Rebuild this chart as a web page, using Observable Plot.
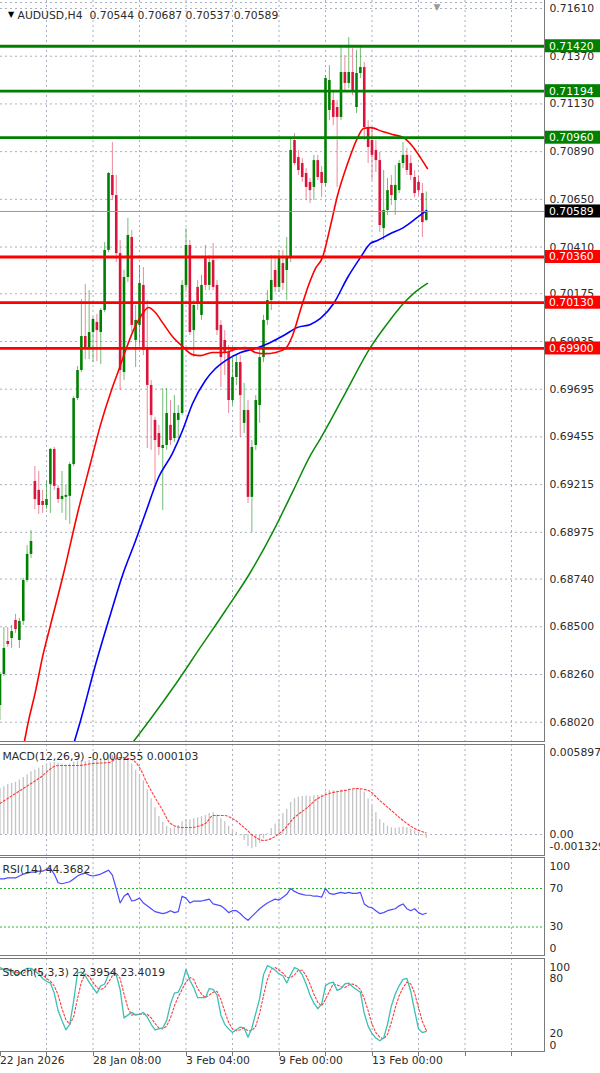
<!DOCTYPE html>
<html><head><meta charset="utf-8">
<script src="https://cdn.jsdelivr.net/npm/d3@7"></script>
<script src="https://cdn.jsdelivr.net/npm/@observablehq/plot@0.6"></script>
<style>
body{margin:0;background:#fff;}
#chart{position:relative;width:600px;height:1073px;overflow:hidden;background:#fff;}
#chart svg{position:absolute;left:0;}
</style></head><body><div id="chart"></div>
<script>
// ---------------- DATA ----------------
const symbol = "AUDUSD,H4";
const open = [0.68104,0.68260,0.68426,0.68441,0.68532,0.68431,0.68527,0.68733,0.68864,0.69231,
0.69186,0.69130,0.69110,0.69216,0.69392,0.69196,0.69140,0.69151,0.69156,0.69316,
0.69648,0.69789,0.69960,0.69905,0.69980,0.70031,0.69980,0.70091,0.70393,0.70770,
0.70669,0.70377,0.69779,0.70257,0.70458,0.69940,0.70016,0.70217,0.69905,0.69714,
0.69538,0.69472,0.69397,0.69412,0.69513,0.69447,0.69538,0.69573,0.70217,0.70418,
0.69990,0.70207,0.70066,0.70352,0.70217,0.70342,0.70217,0.70016,0.69940,0.69880,
0.69638,0.69754,0.69829,0.69523,0.69588,0.69151,0.69412,0.69613,0.69854,0.70041,
0.70141,0.70292,0.70207,0.70327,0.70292,0.70357,0.70946,0.70860,0.70830,0.70780,
0.70735,0.70710,0.70845,0.70785,0.70730,0.71097,0.71147,0.71112,0.71062,0.71288,
0.71233,0.71288,0.71112,0.71283,0.71313,0.71011,0.70946,0.70896,0.70845,0.70503,
0.70594,0.70720,0.70644,0.70694,0.70830,0.70871,0.70830,0.70760,0.70735,0.70679,
0.70544];
const high = [0.68270,0.68496,0.68496,0.68507,0.68562,0.68542,0.68743,0.68909,0.68984,0.69306,
0.69281,0.69186,0.69231,0.69397,0.69402,0.69211,0.69281,0.69211,0.69326,0.69658,
0.69809,0.70146,0.70222,0.70191,0.70056,0.70071,0.70101,0.70433,0.70785,0.70936,
0.70770,0.70443,0.70292,0.70554,0.70493,0.70116,0.70317,0.70307,0.70141,0.69739,
0.69553,0.69513,0.69698,0.69698,0.69638,0.69663,0.69613,0.70242,0.70503,0.70443,
0.70141,0.70242,0.70267,0.70418,0.70367,0.70428,0.70242,0.70041,0.69990,0.69915,
0.69854,0.69864,0.69864,0.69724,0.69638,0.69437,0.69663,0.69890,0.70066,0.70191,
0.70367,0.70367,0.70393,0.70393,0.70458,0.70961,0.70981,0.70896,0.70855,0.70805,
0.70755,0.70871,0.70871,0.70815,0.71273,0.71323,0.71197,0.71147,0.71414,0.71373,
0.71464,0.71409,0.71399,0.71424,0.71338,0.71046,0.71006,0.70946,0.70886,0.70795,
0.70755,0.70770,0.70820,0.70845,0.70936,0.70906,0.70871,0.70795,0.70765,0.70730,
0.70687];
const low = [0.68029,0.68250,0.68396,0.68391,0.68466,0.68391,0.68507,0.68723,0.68844,0.69090,
0.69065,0.69070,0.69090,0.69070,0.69186,0.69120,0.69070,0.69035,0.69015,0.69306,
0.69638,0.69779,0.69844,0.69844,0.69829,0.69834,0.69819,0.70081,0.70382,0.70644,
0.70332,0.69688,0.69739,0.70232,0.69980,0.69804,0.69915,0.69864,0.69397,0.69387,
0.69201,0.69362,0.69085,0.69387,0.69412,0.69427,0.69447,0.69563,0.70191,0.69965,
0.69854,0.70091,0.70041,0.70191,0.70191,0.70191,0.69965,0.69704,0.69764,0.69573,
0.69613,0.69714,0.69452,0.69472,0.69120,0.68974,0.69387,0.69523,0.69829,0.70016,
0.70091,0.70181,0.70181,0.70191,0.70141,0.70332,0.70820,0.70770,0.70735,0.70644,
0.70629,0.70644,0.70745,0.70659,0.70715,0.71046,0.71021,0.70710,0.71046,0.71197,
0.71207,0.71172,0.71082,0.71258,0.70946,0.70830,0.70745,0.70785,0.70483,0.70443,
0.70569,0.70619,0.70569,0.70679,0.70805,0.70770,0.70745,0.70659,0.70669,0.70458,
0.70537];
const close = [0.68260,0.68391,0.68411,0.68476,0.68486,0.68527,0.68733,0.68864,0.68929,0.69140,
0.69110,0.69110,0.69140,0.69392,0.69206,0.69140,0.69156,0.69161,0.69316,0.69648,
0.69789,0.69960,0.69905,0.69980,0.70046,0.69990,0.70091,0.70393,0.70780,0.70669,
0.70377,0.69789,0.70257,0.70468,0.70016,0.70041,0.70227,0.69890,0.69714,0.69563,
0.69437,0.69402,0.69412,0.69573,0.69437,0.69573,0.69573,0.70217,0.70418,0.69980,
0.70116,0.70126,0.70217,0.70217,0.70332,0.70207,0.69990,0.69854,0.69880,0.69638,
0.69754,0.69829,0.69663,0.69588,0.69151,0.69402,0.69638,0.69854,0.70041,0.70141,
0.70242,0.70207,0.70357,0.70227,0.70357,0.70896,0.70830,0.70795,0.70760,0.70710,
0.70694,0.70845,0.70760,0.70730,0.71258,0.71248,0.71062,0.71062,0.71288,0.71233,
0.71288,0.71187,0.71283,0.71313,0.71011,0.70911,0.70871,0.70845,0.70518,0.70594,
0.70694,0.70669,0.70720,0.70830,0.70871,0.70795,0.70770,0.70679,0.70694,0.70533,
0.70589];

// moving averages (bar position, value)
const maRedBar = [6.3,7.1,9.2,11.0,13.0,16.4,20.0,23.4,25.9,29.0,30.6,32.4,35.0,36.8,38.3,40.1,41.9,44.5,47.1,49.7,51.7,54.8,58.2,61.3,63.4,65.9,68.5,71.1,73.7,75.5,77.5,79.6,81.4,83.2,85.3,87.1,89.7,92.3,93.8,95.6,98.7,101.3,104.1,106.7,108.5,110.3];
const maRedVal = [0.67923,0.68003,0.68179,0.68350,0.68506,0.68768,0.69070,0.69326,0.69513,0.69704,0.69789,0.69890,0.70016,0.70076,0.70106,0.70081,0.70031,0.69960,0.69910,0.69869,0.69864,0.69880,0.69880,0.69900,0.69905,0.69880,0.69874,0.69880,0.69900,0.69965,0.70091,0.70217,0.70302,0.70357,0.70518,0.70669,0.70830,0.70961,0.71006,0.71011,0.70991,0.70976,0.70961,0.70911,0.70860,0.70805];
const maBlueBar = [19.2,20.8,24.6,28.5,31.6,35.0,37.5,40.9,44.5,47.1,49.7,53.0,55.6,58.2,62.1,65.9,69.8,73.2,76.8,80.1,82.7,86.1,89.7,93.0,95.6,97.4,100.8,104.1,107.7,110.1];
const maBlueVal = [0.67923,0.68029,0.68305,0.68562,0.68758,0.68934,0.69070,0.69251,0.69372,0.69487,0.69623,0.69739,0.69799,0.69839,0.69880,0.69900,0.69930,0.69965,0.70006,0.70021,0.70051,0.70126,0.70257,0.70357,0.70428,0.70443,0.70478,0.70508,0.70559,0.70594];
const maGreenBar = [34.45,38.8,45.3,51.7,58.2,64.6,70.6,75.7,80.1,82.7,89.2,95.6,100.0,104.1,106.7,110.3];
const maGreenVal = [0.67923,0.68035,0.68211,0.68396,0.68582,0.68773,0.68984,0.69186,0.69362,0.69447,0.69678,0.69905,0.70026,0.70126,0.70176,0.70227];

// horizontal levels
const resistLevels = [0.71420, 0.71194, 0.70960];
const supportLevels = [0.70360, 0.70130, 0.69900];
const priceTicks = [0.71610,0.71370,0.71130,0.70890,0.70650,0.70410,0.70175,0.69935,0.69695,0.69455,0.69215,0.68975,0.68740,0.68500,0.68260,0.68020];

// MACD(12,26,9)
const macdHist = [0.00308,0.00320,0.00335,0.00342,0.00350,0.00365,0.00382,0.00400,0.00420,0.00432,
0.00445,0.00462,0.00474,0.00480,0.00482,0.00478,0.00470,0.00466,0.00472,0.00485,
0.00492,0.00495,0.00490,0.00496,0.00500,0.00498,0.00505,0.00515,0.00528,0.00530,
0.00522,0.00512,0.00508,0.00500,0.00470,0.00430,0.00400,0.00360,0.00300,0.00240,
0.00180,0.00120,0.00080,0.00055,0.00040,0.00045,0.00060,0.00085,0.00100,0.00098,
0.00105,0.00112,0.00120,0.00128,0.00140,0.00145,0.00130,0.00105,0.00085,0.00055,
0.00030,0.00015,-0.00010,-0.00040,-0.00080,-0.00095,-0.00085,-0.00060,-0.00030,0.00005,
0.00040,0.00070,0.00100,0.00140,0.00170,0.00215,0.00240,0.00250,0.00255,0.00258,
0.00255,0.00260,0.00262,0.00265,0.00285,0.00295,0.00292,0.00290,0.00298,0.00300,
0.00305,0.00300,0.00302,0.00305,0.00285,0.00240,0.00190,0.00145,0.00100,0.00075,
0.00055,0.00045,0.00040,0.00045,0.00050,0.00045,0.00035,0.00025,0.00015,-0.00010,
-0.000255];
const macdSigBar = [0,6,10,15,20,24,28,31,34,36,38,40,42,44,47,49,53,55,58,60,63,66,68,70,73,76,79,82,85,89,92,95,98,101,104,107,110];
const macdSigVal = [0.00208,0.00308,0.00375,0.00462,0.00462,0.00476,0.00482,0.00516,0.00503,0.00449,0.00342,0.00248,0.00161,0.00074,0.00047,0.00047,0.00074,0.00127,0.00127,0.00107,0.00047,-0.00020,-0.00040,-0.00027,0.00027,0.00114,0.00174,0.00241,0.00275,0.00295,0.00308,0.00295,0.00228,0.00161,0.00094,0.00040,0.000103];
const macdTicks = [0.005897, 0, -0.001329];
const macdTickText = ["0.005897", "0.00", "-0.001329"];

// RSI(14)
const rsi = [80,80,81,81,81,83,85,86,87,87,
88,88,90,91,85,76,75,76,77,80,
83,85,86,84,83,84,85,87,89,84,
70,55,62,65,57,58,60,55,52,49,
46,45,44,45,47,45,46,62,60,55,
57,57,57,58,59,54,53,52,49,45,
47,47,44,40,37,41,45,49,52,55,
57,59,58,61,64,70,67,65,64,63,
63,62,62,61,70,65,64,65,66,65,
66,65,65,66,54,51,50,47,44,45,
47,48,49,52,54,49,47,49,45,43,
44.3682];
const rsiLevels = [70, 30];
const rsiTicks = [100, 70, 30, 0];

// Stochastic(5,3,3)
const stochK = [92,90,89,88,84,85,89,91,91,88,
85,80,77,75,64,45,34,24,30,55,
86,87,83,76,70,64,72,74,84,88,
84,68,37,40,43,40,41,43,38,30,
24,25,26,34,52,64,65,74,90,78,
70,59,59,59,69,68,62,40,30,25,
21,24,27,26,16,26,42,58,84,94,
92,89,85,83,75,84,92,90,84,74,
62,53,47,52,72,75,76,67,69,74,
75,71,68,65,42,28,20,15,12,15,
30,50,63,72,79,80,66,45,25,21,
22.3954];
const stochD = [90,90,90,89,87,86,86,88,90,90,
88,84,80,77,72,62,47,35,30,38,
58,76,85,82,76,70,68,70,76,83,
86,80,63,48,40,41,41,41,41,37,
31,26,25,28,37,50,60,68,76,81,
79,69,63,59,62,65,66,57,44,32,
25,23,24,26,23,23,28,42,61,79,
90,92,89,86,81,81,84,89,89,83,
74,63,54,50,57,66,74,73,71,70,
73,74,72,68,58,45,30,21,16,14,
19,32,48,61,70,76,74,64,48,33,
23.4019];
const stochTicks = [100, 80, 20, 0];

// time axis
const gridBars = [12,24,36,48,60,72,84,96,108,120,132];
const dateBars = [0,24,48,72,96];
const dateLabels = ["22 Jan 2026","28 Jan 08:00","3 Feb 04:00","9 Feb 00:00","13 Feb 00:00"];

// ---------------- DRAW ----------------
const FONT = "DejaVu Sans";
const FS = 10.8;
const TXT = "#2b2b2b";
const GRID = {stroke: "#a9b0c0", strokeDasharray: "2,3", strokeWidth: 1};
const xDomain = [0.129, 140.516];
const n = open.length;
const candles = d3.range(n).map(i => ({i, o: open[i], h: high[i], l: low[i], c: close[i]}));
const isUp = d => d.c >= d.o;
const pts = (b, v) => b.map((x, k) => ({x, y: v[k]}));
const last = n - 1;

function base(height, yDomain, marginBottom = 0) {
  return {
    width: 600, height, marginLeft: 0, marginRight: 56, marginTop: 0, marginBottom,
    x: {domain: xDomain, axis: null},
    y: {domain: yDomain, axis: null},
    color: {type: "identity"},
    style: {fontFamily: FONT, fontSize: FS + "px", background: "transparent"}
  };
}
const txt = (o) => ({fontFamily: FONT, fontSize: FS, fill: TXT, ...o});

const chart = document.getElementById("chart");

// main price panel
const main = Plot.plot({
  ...base(742, [0.679179, 0.716502]),
  marks: [
    Plot.ruleY(priceTicks, GRID),
    Plot.ruleX(gridBars, GRID),
    Plot.ruleX(candles, {x: "i", y1: "l", y2: "h", stroke: d => isUp(d) ? "rgba(0,135,0,0.55)" : "rgba(220,20,60,0.5)", strokeWidth: 1}),
    Plot.ruleX(candles, {x: "i", y1: "o", y2: "c", stroke: d => isUp(d) ? "#008000" : "#dc143c", strokeWidth: 2.6}),
    Plot.line(pts(maGreenBar, maGreenVal), {x: "x", y: "y", stroke: "#0a8a0a", strokeWidth: 1.5, curve: "monotone-x", clip: true}),
    Plot.line(pts(maBlueBar, maBlueVal), {x: "x", y: "y", stroke: "#0000ff", strokeWidth: 1.6, curve: "monotone-x", clip: true}),
    Plot.line(pts(maRedBar, maRedVal), {x: "x", y: "y", stroke: "#ff0000", strokeWidth: 1.6, curve: "monotone-x", clip: true}),
    Plot.ruleY([close[last]], {stroke: "#9a9a9a", strokeWidth: 1}),
    Plot.ruleY(resistLevels, {stroke: "#008000", strokeWidth: 2.8}),
    Plot.ruleY(supportLevels, {stroke: "#ff0000", strokeWidth: 2.8}),
    Plot.text(priceTicks, txt({y: d => d, text: d => d.toFixed(5), frameAnchor: "right", textAnchor: "start", dx: 5})),
    Plot.text(["▼"], txt({frameAnchor: "top-left", dx: 7.5, dy: 11, fontSize: 8, fill: "#000"})),
    Plot.text([`${symbol}  ${open[last].toFixed(5)} ${high[last].toFixed(5)} ${low[last].toFixed(5)} ${close[last].toFixed(5)}`],
      txt({frameAnchor: "top-left", textAnchor: "start", dx: 17, dy: 11})),
    Plot.text(["▼"], txt({frameAnchor: "top-left", dx: 433, dy: 3, fontSize: 9, fill: "#9a9a9a"}))
  ]
});
main.style.top = "0px";
chart.appendChild(main);

// MACD panel
const macdData = d3.range(n).map(i => ({i, v: macdHist[i]}));
const macd = Plot.plot({
  ...base(112, [-0.0014742, 0.0060310]),
  marks: [
    Plot.ruleX(gridBars, GRID),
    Plot.ruleY([0], GRID),
    Plot.ruleX(macdData, {x: "i", y1: 0, y2: "v", stroke: "#c4c4c4", strokeWidth: 1.3}),
    Plot.line(pts(macdSigBar, macdSigVal), {x: "x", y: "y", stroke: "#ff3b3b", strokeWidth: 1.1, strokeDasharray: "2,2", curve: "monotone-x"}),
    Plot.text([`MACD(12,26,9) ${macdHist[last].toFixed(6)} ${macdSigVal[macdSigVal.length - 1].toFixed(6)}`],
      txt({frameAnchor: "top-left", textAnchor: "start", dx: 2, dy: 8})),
    Plot.text([macdTicks[0]], txt({y: d => d, text: () => macdTickText[0], frameAnchor: "right", textAnchor: "start", dx: 5, dy: 6})),
    Plot.text([macdTicks[1]], txt({y: d => d, text: () => macdTickText[1], frameAnchor: "right", textAnchor: "start", dx: 5})),
    Plot.text([macdTicks[2]], txt({y: d => d, text: () => macdTickText[2], frameAnchor: "right", textAnchor: "start", dx: 5, dy: -8}))
  ]
});
macd.style.top = "744px";
chart.appendChild(macd);

// RSI panel
const rsiPlot = Plot.plot({
  ...base(99, [-0.62, 102.23]),
  marks: [
    Plot.ruleX(gridBars, GRID),
    Plot.ruleY(rsiLevels, {stroke: "#2fae2f", strokeDasharray: "2,2", strokeWidth: 1}),
    Plot.line(rsi.map((v, i) => ({i, v})), {x: "i", y: "v", stroke: "#4a4aff", strokeWidth: 1.2}),
    Plot.text([`RSI(14) ${rsi[last].toFixed(4)}`], txt({frameAnchor: "top-left", textAnchor: "start", dx: 2, dy: 8})),
    Plot.text([rsiTicks[0]], txt({y: d => d, text: d => String(d), frameAnchor: "right", textAnchor: "start", dx: 5, dy: 7})),
    Plot.text(rsiTicks.slice(1, 3), txt({y: d => d, text: d => String(d), frameAnchor: "right", textAnchor: "start", dx: 5})),
    Plot.text([rsiTicks[3]], txt({y: d => d, text: d => String(d), frameAnchor: "right", textAnchor: "start", dx: 5, dy: -7}))
  ]
});
rsiPlot.style.top = "857px";
chart.appendChild(rsiPlot);

// Stochastic panel with time axis
const stoch = Plot.plot({
  ...base(115, [-0.76, 101.78], 21),
  marks: [
    Plot.ruleX(gridBars, GRID),
    Plot.line(stochD.map((v, i) => ({i, v})), {x: "i", y: "v", stroke: "#ff3b3b", strokeWidth: 1.1, strokeDasharray: "2,2"}),
    Plot.line(stochK.map((v, i) => ({i, v})), {x: "i", y: "v", stroke: "#3cbfb4", strokeWidth: 1.3}),
    Plot.text([`Stoch(5,3,3) ${stochK[last].toFixed(4)} ${stochD[last].toFixed(4)}`], txt({frameAnchor: "top-left", textAnchor: "start", dx: 2, dy: 10})),
    Plot.text([stochTicks[0]], txt({y: d => d, text: d => String(d), frameAnchor: "right", textAnchor: "start", dx: 5, dy: 7})),
    Plot.text(stochTicks.slice(1, 3), txt({y: d => d, text: d => String(d), frameAnchor: "right", textAnchor: "start", dx: 5})),
    Plot.text([stochTicks[3]], txt({y: d => d, text: d => String(d), frameAnchor: "right", textAnchor: "start", dx: 5, dy: -6})),
    Plot.text(dateLabels, txt({x: (d, k) => dateBars[k], text: d => d, frameAnchor: "bottom", textAnchor: "start", dy: 11}))
  ]
});
stoch.style.top = "958px";
chart.appendChild(stoch);

// panel borders, axis ticks and right-axis level labels (positioned with the plots' own scales)
function borders(svg, h, withTop) {
  const s = d3.select(svg);
  s.append("line").attr("x1", 544.5).attr("x2", 544.5).attr("y1", 0).attr("y2", h).attr("stroke", "#7a7a7a");
  s.append("line").attr("x1", 0).attr("x2", 545).attr("y1", h - 0.5).attr("y2", h - 0.5).attr("stroke", "#7a7a7a");
  if (withTop) s.append("line").attr("x1", 0).attr("x2", 545).attr("y1", 0.5).attr("y2", 0.5).attr("stroke", "#7a7a7a");
}
borders(main, 742, false);
borders(macd, 112, true);
borders(rsiPlot, 99, true);
borders(stoch, 94, true);
d3.select(main).append("line").attr("x1", 0).attr("x2", 544).attr("y1", 2.5).attr("y2", 2.5)
  .attr("stroke", GRID.stroke).attr("stroke-dasharray", GRID.strokeDasharray);

const sx = stoch.scale("x");
const ss = d3.select(stoch);
for (const b of gridBars.concat(dateBars)) {
  const x = Math.round(sx.apply(b)) + 0.5;
  if (x < 0 || x > 544) continue;
  ss.append("line").attr("x1", x).attr("x2", x).attr("y1", 94).attr("y2", 98).attr("stroke", "#7a7a7a");
}

const ys = main.scale("y");
const boxes = [
  ...resistLevels.map(v => ({v, fill: "#008000"})),
  ...supportLevels.map(v => ({v, fill: "#ff0000"})),
  {v: close[last], fill: "#000000"}
];
const ms = d3.select(main);
for (const b of boxes) {
  const y = ys.apply(b.v);
  ms.append("rect").attr("x", 545).attr("y", y - 6.5).attr("width", 55).attr("height", 13).attr("fill", b.fill);
  ms.append("text").attr("x", 549).attr("y", y).attr("dy", "0.36em").attr("fill", "#fff")
    .attr("text-anchor", "start").attr("font-family", FONT).attr("font-size", FS).text(b.v.toFixed(5));
}
</script>
</body></html>
